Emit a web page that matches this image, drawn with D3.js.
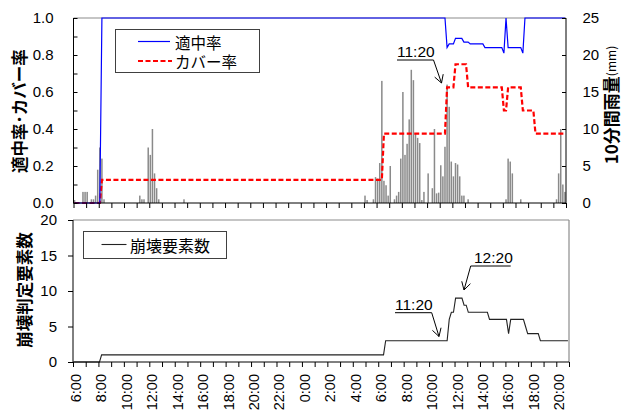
<!DOCTYPE html>
<html><head><meta charset="utf-8">
<script src="https://cdn.jsdelivr.net/npm/d3@7"></script>
<style>
html,body{margin:0;padding:0;background:#fff;}
svg{display:block;}
text{font-family:"Liberation Sans",Arial,"Noto Sans CJK JP",sans-serif;fill:#000;}
.jp{font-family:"Noto Sans CJK JP","Noto Sans CJK SC",sans-serif;}
</style></head><body>
<svg id="c" width="630" height="412"></svg>
<script>
// 10-minute rainfall (mm), 6:00 day1 -> 21:00 day2, one value per 10 min
const rain = [
 0.4,0,0,0,1.5,1.5,1.5,0,0.5,0.5,1,4.5,
 7.5,6,0.5,0,0,0,0,0,0,0,0,0,
 0,0,0,0,0,0,0,1,0.5,0.5,0,7.5,
 6.5,10,4,2,0.5,0,0,0,0,0,0,0,
 0,0,0,0,0.5,0,0,0,0,0,0,0,
 0,0,0,0,0,0,0,0,0,0,0,0,
 0,0,0,0,0,0,0,0,0,0,0,0,
 0,0,0,0,0,0,0,0,0,0,0,0,
 0,0,0,0,0,0,0,0,0,0,0,0,
 0,0,0,0,0,0,0,0,0,0,0,0,
 0,0,0,0,0,0,0,0,0,0,0,0,
 0,0,0,0,0,0,1,0.4,0,0,0.5,3.5,
 3.3,5.4,16.5,3,2.4,1,5,0,0.5,1,1.5,6,
 15,6.5,8,11.3,18,16.6,9.4,8.8,8.1,0.4,1.5,0,
 4,0,2,10,1.3,1.4,5.1,3.6,7.6,16,13,5.6,
 3.6,5.4,5.2,3.6,1,1,0,0.5,0,0,0,0,
 0,0,0,0,0,0,0,0,0,0,0,0,
 0,0.5,6,5.6,4,0,0,0,0.5,0,0,0,
 0,0,0,0,0,0,0,0,0,0,0,0,
 0,0.5,4,10,2.5,1.5
];
// 適中率
const hitRate = [
 0,0,0,0,0,0,0,0,0,0,0,0,
 0,1,1,1,1,1,1,1,1,1,1,1,
 1,1,1,1,1,1,1,1,1,1,1,1,
 1,1,1,1,1,1,1,1,1,1,1,1,
 1,1,1,1,1,1,1,1,1,1,1,1,
 1,1,1,1,1,1,1,1,1,1,1,1,
 1,1,1,1,1,1,1,1,1,1,1,1,
 1,1,1,1,1,1,1,1,1,1,1,1,
 1,1,1,1,1,1,1,1,1,1,1,1,
 1,1,1,1,1,1,1,1,1,1,1,1,
 1,1,1,1,1,1,1,1,1,1,1,1,
 1,1,1,1,1,1,1,1,1,1,1,1,
 1,1,1,1,1,1,1,1,1,1,1,1,
 1,1,1,1,1,1,1,1,1,1,1,1,
 1,1,1,1,1,1,1,1,1,0.84,0.86,0.86,
 0.86,0.89,0.89,0.89,0.89,0.87,0.87,0.87,0.86,0.86,0.86,0.86,
 0.86,0.86,0.86,0.84,0.84,0.84,0.84,0.84,0.84,0.84,0.84,0.84,
 0.81,1,0.84,0.84,0.84,0.84,0.84,0.84,0.84,0.81,1,1,
 1,1,1,1,1,1,1,1,1,1,1,1,
 1,1,1,1,1,1
];
// カバー率
const coverRate = [
 0,0,0,0,0,0,0,0,0,0,0,0,
 0,0.125,0.125,0.125,0.125,0.125,0.125,0.125,0.125,0.125,0.125,0.125,
 0.125,0.125,0.125,0.125,0.125,0.125,0.125,0.125,0.125,0.125,0.125,0.125,
 0.125,0.125,0.125,0.125,0.125,0.125,0.125,0.125,0.125,0.125,0.125,0.125,
 0.125,0.125,0.125,0.125,0.125,0.125,0.125,0.125,0.125,0.125,0.125,0.125,
 0.125,0.125,0.125,0.125,0.125,0.125,0.125,0.125,0.125,0.125,0.125,0.125,
 0.125,0.125,0.125,0.125,0.125,0.125,0.125,0.125,0.125,0.125,0.125,0.125,
 0.125,0.125,0.125,0.125,0.125,0.125,0.125,0.125,0.125,0.125,0.125,0.125,
 0.125,0.125,0.125,0.125,0.125,0.125,0.125,0.125,0.125,0.125,0.125,0.125,
 0.125,0.125,0.125,0.125,0.125,0.125,0.125,0.125,0.125,0.125,0.125,0.125,
 0.125,0.125,0.125,0.125,0.125,0.125,0.125,0.125,0.125,0.125,0.125,0.125,
 0.125,0.125,0.125,0.125,0.125,0.125,0.125,0.125,0.125,0.125,0.125,0.125,
 0.125,0.125,0.125,0.375,0.375,0.375,0.375,0.375,0.375,0.375,0.375,0.375,
 0.375,0.375,0.375,0.375,0.375,0.375,0.375,0.375,0.375,0.375,0.375,0.375,
 0.375,0.375,0.375,0.375,0.375,0.375,0.375,0.375,0.375,0.625,0.625,0.625,
 0.625,0.75,0.75,0.75,0.75,0.75,0.75,0.625,0.625,0.625,0.625,0.625,
 0.625,0.625,0.625,0.625,0.625,0.625,0.625,0.625,0.625,0.625,0.625,0.625,
 0.5,0.5,0.625,0.625,0.625,0.625,0.625,0.625,0.625,0.5,0.5,0.5,
 0.5,0.5,0.5,0.375,0.375,0.375,0.375,0.375,0.375,0.375,0.375,0.375,
 0.375,0.375,0.375,0.375,0.375,0.375
];
// 崩壊要素数
const collapseCount = [
 0,0,0,0,0,0,0,0,0,0,0,0,
 0,1,1,1,1,1,1,1,1,1,1,1,
 1,1,1,1,1,1,1,1,1,1,1,1,
 1,1,1,1,1,1,1,1,1,1,1,1,
 1,1,1,1,1,1,1,1,1,1,1,1,
 1,1,1,1,1,1,1,1,1,1,1,1,
 1,1,1,1,1,1,1,1,1,1,1,1,
 1,1,1,1,1,1,1,1,1,1,1,1,
 1,1,1,1,1,1,1,1,1,1,1,1,
 1,1,1,1,1,1,1,1,1,1,1,1,
 1,1,1,1,1,1,1,1,1,1,1,1,
 1,1,1,1,1,1,1,1,1,1,1,1,
 1,1,1,3,3,3,3,3,3,3,3,3,
 3,3,3,3,3,3,3,3,3,3,3,3,
 3,3,3,3,3,3,3,3,3,6,7,7,
 9,9,9,9,8,8,7,7,7,7,7,7,
 7,7,7,7,6,6,6,6,6,6,6,6,
 6,4,6,6,6,6,6,6,6,5,4,4,
 4,4,4,4,3,3,3,3,3,3,3,3,
 3,3,3,3,3,3
];
const timeLabels = ["6:00","8:00","10:00","12:00","14:00","16:00","18:00","20:00","22:00","0:00",
  "2:00","4:00","6:00","8:00","10:00","12:00","14:00","16:00","18:00","20:00"];
const leftTicksTop = [0,0.2,0.4,0.6,0.8,1.0];
const rightTicksTop = [0,5,10,15,20,25];
const leftTicksBottom = [0,5,10,15,20];

const N = rain.length;
const svg = d3.select("#c");
const xT = d3.scaleLinear().domain([0,N]).range([73.5,566]);
const yL = d3.scaleLinear().domain([0,1]).range([203,18]);
const yR = d3.scaleLinear().domain([0,25]).range([203,18]);
const xB = d3.scaleLinear().domain([0,N]).range([73,569]);
const yB = d3.scaleLinear().domain([0,20]).range([362,220]);

function styleAxis(g, size){
  g.selectAll("text").attr("font-family",'"Liberation Sans",Arial,sans-serif').attr("font-size",size).attr("fill","#000");
  g.selectAll("line").attr("stroke","#000");
  g.select(".domain").remove();
}
function arrow(g, pts){
  const p = pts.map(d=>d.join(",")).join(" L");
  g.append("path").attr("d","M"+p).attr("fill","none").attr("stroke","#000").attr("stroke-width",1);
  const a = pts[pts.length-2], b = pts[pts.length-1];
  const dx=a[0]-b[0], dy=a[1]-b[1], L=Math.hypot(dx,dy), ux=dx/L, uy=dy/L;
  const wing = s => { const c=Math.cos(s), sn=Math.sin(s); return [b[0]+9*(ux*c-uy*sn), b[1]+9*(ux*sn+uy*c)]; };
  const w1=wing(Math.PI/6), w2=wing(-Math.PI/6);
  g.append("path").attr("d",`M${w1[0]},${w1[1]} L${b[0]},${b[1]} L${w2[0]},${w2[1]}`).attr("fill","none").attr("stroke","#000").attr("stroke-width",1);
}

// ===== TOP CHART =====
const gTop = svg.append("g");
gTop.append("line").attr("x1",73.5).attr("x2",566).attr("y1",18).attr("y2",18).attr("stroke","#8c8c8c").attr("stroke-width",1.2);
gTop.append("g").selectAll("rect").data(rain).join("rect")
  .attr("x",(d,i)=>xT(i+0.5)-0.75).attr("width",1.5)
  .attr("y",d=>yR(d)).attr("height",d=>yR(0)-yR(d)).attr("fill","#8a8a8a");
gTop.append("path").datum(coverRate)
  .attr("d",d3.line().x((d,i)=>xT(i+0.5)).y(d=>yL(d)))
  .attr("fill","none").attr("stroke","#ff0000").attr("stroke-width",2.2).attr("stroke-dasharray","5,2.5");
gTop.append("path").datum(hitRate)
  .attr("d",d3.line().x((d,i)=>xT(i+0.5)).y(d=>yL(d)))
  .attr("fill","none").attr("stroke","#0000ff").attr("stroke-width",1.2);

const gl = gTop.append("g").attr("transform","translate(73.5,0)")
  .call(d3.axisLeft(yL).tickValues(leftTicksTop).tickFormat(d3.format(".1f")).tickSize(0).tickPadding(20));
styleAxis(gl,15);
const glm = gTop.append("g").attr("transform","translate(73.5,0)")
  .call(d3.axisRight(yL).tickValues(d3.range(11).map(k=>k/10)).tickSize(4).tickFormat(""));
styleAxis(glm,15);
const gr = gTop.append("g").attr("transform","translate(566,0)")
  .call(d3.axisLeft(yR).tickValues(rightTicksTop).tickSize(4).tickFormat(""));
styleAxis(gr,15);
const grl = gTop.append("g").attr("transform","translate(566,0)")
  .call(d3.axisRight(yR).tickValues(rightTicksTop).tickSize(0).tickPadding(16.5));
styleAxis(grl,15);
const gb = gTop.append("g").attr("transform","translate(0,203)")
  .call(d3.axisBottom(xT).tickValues(d3.range(0,N+1,6)).tickSize(5).tickFormat(""));
styleAxis(gb,15);
gTop.append("line").attr("x1",73.5).attr("x2",73.5).attr("y1",18).attr("y2",203).attr("stroke","#000");
gTop.append("line").attr("x1",566).attr("x2",566).attr("y1",18).attr("y2",203).attr("stroke","#000");
gTop.append("line").attr("x1",73.5).attr("x2",566).attr("y1",203).attr("y2",203).attr("stroke","#000");

gTop.append("text").attr("class","jp").attr("transform","translate(19,111) rotate(-90)")
  .attr("text-anchor","middle").attr("dominant-baseline","central")
  .attr("font-size",16.5).attr("font-weight","bold").text("適中率･カバー率");
const rt = gTop.append("text").attr("class","jp").attr("transform","translate(610,105) rotate(-90)")
  .attr("text-anchor","middle").attr("dominant-baseline","central");
rt.append("tspan").attr("font-size",17).attr("font-weight","bold").text("10分間雨量");
rt.append("tspan").attr("font-size",12).text("(mm)");

gTop.append("rect").attr("x",115.5).attr("y",29.5).attr("width",144).attr("height",43)
  .attr("fill","#fff").attr("stroke","#404040").attr("stroke-width",1);
gTop.append("line").attr("x1",138).attr("x2",170).attr("y1",41.5).attr("y2",41.5).attr("stroke","#0000ff").attr("stroke-width",1.2);
gTop.append("line").attr("x1",138).attr("x2",172).attr("y1",61).attr("y2",61).attr("stroke","#ff0000").attr("stroke-width",2.2).attr("stroke-dasharray","5,2.5");
gTop.append("text").attr("class","jp").attr("x",175).attr("y",41.5).attr("dominant-baseline","central").attr("font-size",15.5).text("適中率");
gTop.append("text").attr("class","jp").attr("x",175).attr("y",61).attr("dominant-baseline","central").attr("font-size",15.5).text("カバー率");

gTop.append("text").attr("x",397).attr("y",57).attr("font-size",15.5).text("11:20");
arrow(gTop, [[397,60],[433.5,60],[441.5,83]]);

// ===== BOTTOM CHART =====
const gBot = svg.append("g");
gBot.append("line").attr("x1",73).attr("x2",569).attr("y1",220).attr("y2",220).attr("stroke","#8c8c8c").attr("stroke-width",1.2);
gBot.append("line").attr("x1",569).attr("x2",569).attr("y1",220).attr("y2",362).attr("stroke","#8c8c8c").attr("stroke-width",1.2);
gBot.append("path").datum(collapseCount)
  .attr("d",d3.line().x((d,i)=>xB(i+0.5)).y(d=>yB(d)))
  .attr("fill","none").attr("stroke","#222").attr("stroke-width",1.1);
const bl = gBot.append("g").attr("transform","translate(73,0)")
  .call(d3.axisLeft(yB).tickValues(leftTicksBottom).tickSize(5).tickPadding(11));
styleAxis(bl,15);
const bb = gBot.append("g").attr("transform","translate(0,362)")
  .call(d3.axisBottom(xB).tickValues(d3.range(0,N+1,6)).tickSize(5).tickFormat(""));
styleAxis(bb,15);
gBot.append("line").attr("x1",73).attr("x2",73).attr("y1",220).attr("y2",362).attr("stroke","#000");
gBot.append("line").attr("x1",73).attr("x2",569).attr("y1",362).attr("y2",362).attr("stroke","#000");
gBot.append("g").selectAll("text").data(timeLabels).join("text")
  .attr("transform",(d,k)=>`translate(${xB(k*12)+8},374) rotate(-90)`)
  .attr("text-anchor","end").attr("font-size",14.5).text(d=>d);

gBot.append("text").attr("class","jp").attr("transform","translate(24,290) rotate(-90)")
  .attr("text-anchor","middle").attr("dominant-baseline","central")
  .attr("font-size",16.5).attr("font-weight","bold").text("崩壊判定要素数");

gBot.append("rect").attr("x",83.5).attr("y",231.5).attr("width",143).attr("height",27)
  .attr("fill","#fff").attr("stroke","#404040").attr("stroke-width",1);
gBot.append("line").attr("x1",101.5).attr("x2",126.5).attr("y1",244.5).attr("y2",244.5).attr("stroke","#222").attr("stroke-width",1.1);
gBot.append("text").attr("class","jp").attr("x",130).attr("y",244.5).attr("dominant-baseline","central").attr("font-size",16).text("崩壊要素数");

gBot.append("text").attr("x",395).attr("y",310).attr("font-size",15.5).text("11:20");
arrow(gBot, [[395,312.7],[431.7,312.7],[439,336.5]]);
gBot.append("text").attr("x",474).attr("y",262.5).attr("font-size",15.5).text("12:20");
arrow(gBot, [[510.7,266],[470.7,266],[464,290]]);
</script></body></html>
